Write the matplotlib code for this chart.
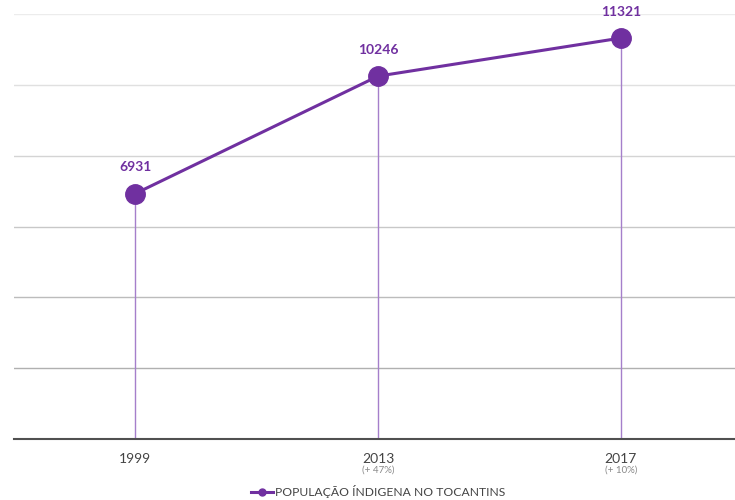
import matplotlib
matplotlib.use('Agg')
import matplotlib.pyplot as plt
from matplotlib.lines import Line2D

years = ["1999", "2013", "2017"]
growth = ["", "(+ 47%)", "(+ 10%)"]
population = [6931, 10246, 11321]
grid_levels = [2000, 4000, 6000, 8000, 10000, 12000]
grid_colors = ["#b0b0b0", "#bcbcbc", "#c8c8c8", "#d4d4d4", "#e0e0e0", "#ececec"]

purple = "#7030a0"
plt.rcParams['font.family'] = ['Lato', 'DejaVu Sans']

fig = plt.figure(figsize=(7.35, 5.0), dpi=100)
ax = fig.add_axes([14 / 735, 1 - 439 / 500, 1 - 14 / 735, 425 / 500])

x = list(range(len(years)))

for lvl, c in zip(grid_levels, grid_colors):
    ax.axhline(lvl, color=c, lw=1.0, zorder=0)

# drop lines from each point to the baseline
ax.vlines(x, 0, population, color="#a57fcb", lw=1.0, zorder=1)

ax.plot(x, population, color=purple, lw=2.2, marker='o', markersize=14, zorder=3)

for xi, v in zip(x, population):
    ax.annotate(str(v), (xi, v), xytext=(0, 19), textcoords='offset points',
                ha='center', va='center', fontsize=10, fontweight='bold', color=purple)

ax.set_xlim(-0.5, 2.47)
ax.set_ylim(0, 12000)
ax.set_yticks([])
ax.set_xticks(x)
ax.set_xticklabels(years, fontsize=10, color="#444444")
ax.tick_params(axis='x', length=0, pad=10)

for xi, g in zip(x, growth):
    if g:
        ax.annotate(g, (xi, 0), xytext=(0, -22.5), textcoords='offset points',
                    ha='center', va='center', fontsize=7, color="#888888")

for s in ['top', 'right', 'left']:
    ax.spines[s].set_visible(False)
ax.spines['bottom'].set_color("#505050")
ax.spines['bottom'].set_linewidth(1.5)

handle = Line2D([], [], color=purple, lw=2.2, marker='o', markersize=5)
fig.legend(handles=[handle], labels=["POPULAÇÃO ÍNDIGENA NO TOCANTINS"],
           loc='center', bbox_to_anchor=(378 / 735, 1 - 492 / 500), frameon=False,
           fontsize=8.7, handlelength=1.8, handletextpad=0.2, labelcolor="#444444")

fig.savefig("out.png", dpi=100)
